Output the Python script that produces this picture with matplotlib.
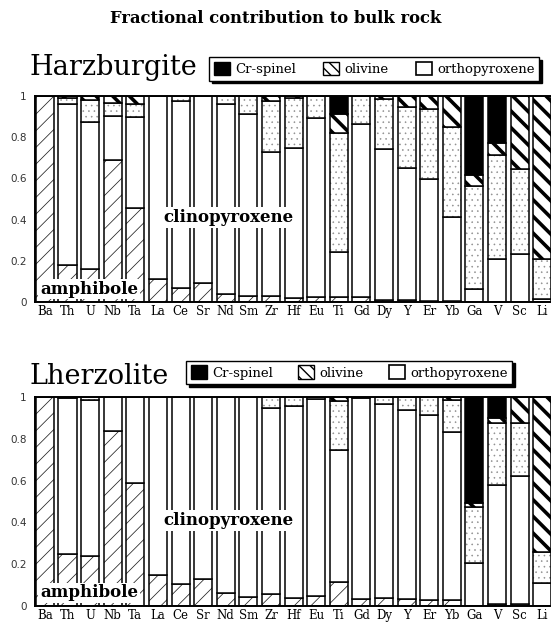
import numpy as np
import matplotlib
matplotlib.use('Agg')
import matplotlib.pyplot as plt
from matplotlib.patches import Patch

# Elementi sull'asse x
elements = ['Ba', 'Th', 'U', 'Nb', 'Ta', 'La', 'Ce', 'Sr', 'Nd', 'Sm', 'Zr', 'Hf', 'Eu',
            'Ti', 'Gd', 'Dy', 'Y', 'Er', 'Yb', 'Ga', 'V', 'Sc', 'Li']
minerals = ['amphibole', 'clinopyroxene', 'orthopyroxene', 'olivine', 'Cr-spinel']

# Harzburgite: fraction of each element held by each mineral (bottom to top)
harz_amphibole = [1.0, 0.18, 0.16, 0.69, 0.455, 0.11, 0.07, 0.093, 0.04, 0.03, 0.03, 0.018,
                  0.025, 0.022, 0.022, 0.012, 0.008, 0.006, 0.006, 0.0, 0.0, 0.0, 0.0]
harz_cpx = [0.0, 0.78, 0.715, 0.215, 0.445, 0.89, 0.905, 0.907, 0.92, 0.885, 0.70, 0.732,
            0.87, 0.22, 0.841, 0.73, 0.645, 0.591, 0.405, 0.063, 0.21, 0.234, 0.015]
harz_opx = [0.0, 0.03, 0.105, 0.06, 0.063, 0.0, 0.025, 0.0, 0.04, 0.085, 0.245, 0.24,
            0.105, 0.58, 0.137, 0.243, 0.295, 0.342, 0.44, 0.502, 0.503, 0.411, 0.195]
harz_olivine = [0.0, 0.01, 0.02, 0.035, 0.037, 0.0, 0.0, 0.0, 0.0, 0.0, 0.025, 0.01,
                0.0, 0.089, 0.0, 0.015, 0.052, 0.061, 0.149, 0.051, 0.061, 0.355, 0.79]
harz_spinel = [0.0, 0.0, 0.0, 0.0, 0.0, 0.0, 0.0, 0.0, 0.0, 0.0, 0.0, 0.0,
               0.0, 0.089, 0.0, 0.0, 0.0, 0.0, 0.0, 0.384, 0.226, 0.0, 0.0]

# Lherzolite
lherz_amphibole = [1.0, 0.25, 0.237, 0.836, 0.588, 0.149, 0.106, 0.13, 0.063, 0.044, 0.058, 0.037,
                   0.048, 0.117, 0.034, 0.036, 0.034, 0.029, 0.029, 0.0, 0.008, 0.008, 0.0]
lherz_cpx = [0.0, 0.745, 0.748, 0.164, 0.412, 0.851, 0.894, 0.87, 0.937, 0.956, 0.89, 0.919,
             0.942, 0.628, 0.961, 0.931, 0.903, 0.884, 0.802, 0.206, 0.572, 0.615, 0.108]
lherz_opx = [0.0, 0.005, 0.015, 0.0, 0.0, 0.0, 0.0, 0.0, 0.0, 0.0, 0.052, 0.044,
             0.01, 0.235, 0.005, 0.033, 0.063, 0.087, 0.154, 0.267, 0.296, 0.253, 0.152]
lherz_olivine = [0.0, 0.0, 0.0, 0.0, 0.0, 0.0, 0.0, 0.0, 0.0, 0.0, 0.0, 0.0,
                 0.0, 0.02, 0.0, 0.0, 0.0, 0.0, 0.015, 0.02, 0.024, 0.124, 0.74]
lherz_spinel = [0.0, 0.0, 0.0, 0.0, 0.0, 0.0, 0.0, 0.0, 0.0, 0.0, 0.0, 0.0,
                0.0, 0.0, 0.0, 0.0, 0.0, 0.0, 0.0, 0.507, 0.10, 0.0, 0.0]

yticks = [0, 0.2, 0.4, 0.6, 0.8, 1]
ytick_labels = ['0', '0.2', '0.4', '0.6', '0.8', '1']

serif = 'DejaVu Serif'

# stile di ogni minerale: colore, tratteggio, colore tratteggio, spessore tratteggio
styles = {
    'amphibole': ('white', '//', '#222222', 0.55),
    'clinopyroxene': ('white', None, 'black', 0.6),
    'orthopyroxene': ('white', '...', '#8f8f8f', 0.4),
    'olivine': ('white', '\\\\', 'black', 2.6),
    'Cr-spinel': ('black', None, 'black', 0.6),
}


def draw_panel(ax, layers, legend_box):
    x = np.arange(len(elements))
    bottom = np.zeros(len(elements))
    for mineral, values in zip(minerals, layers):
        face, hatch, hcolor, hlw = styles[mineral]
        values = np.array(values)
        with plt.rc_context({'hatch.linewidth': hlw, 'hatch.color': hcolor}):
            ax.bar(x, values, width=0.8, bottom=bottom, color=face, hatch=hatch,
                   edgecolor=hcolor, linewidth=0)
        ax.bar(x, values, width=0.8, bottom=bottom, fill=False, edgecolor='black', linewidth=1.1)
        bottom += values

    ax.set_xlim(-0.44, 22.39)
    ax.set_ylim(0, 1)
    ax.set_yticks(yticks)
    ax.set_yticklabels(ytick_labels, fontsize=7.5, family='DejaVu Sans', color='#333333')
    ax.set_xticks(x)
    ax.set_xticklabels(elements, fontsize=8.5, family=serif)
    ax.tick_params(axis='both', length=0)
    ax.tick_params(axis='y', pad=6)
    ax.tick_params(axis='x', pad=2)
    for side in ['left', 'top', 'bottom']:
        ax.spines[side].set_linewidth(1.4)
    ax.spines['right'].set_visible(False)

    ax.text(8.1, 0.41, 'clinopyroxene', family=serif, fontweight='bold', fontsize=12,
            ha='center', va='center', zorder=5,
            bbox=dict(facecolor='white', edgecolor='none', pad=1.5))
    ax.text(1.95, 0.063, 'amphibole', family=serif, fontweight='bold', fontsize=12,
            ha='center', va='center', zorder=5,
            bbox=dict(facecolor='white', edgecolor='none', pad=1.2))

    # Legenda sopra il grafico
    handles = [Patch(facecolor='black', edgecolor='black')]
    with plt.rc_context({'hatch.linewidth': 2.0}):
        handles.append(Patch(facecolor='white', edgecolor='black', hatch='\\\\\\'))
    handles.append(Patch(facecolor='white', edgecolor='black', linewidth=1.2))
    fig.legend(handles, ['Cr-spinel', 'olivine', 'orthopyroxene'], ncol=3, loc='center',
               mode='expand', bbox_to_anchor=legend_box, prop={'family': serif, 'size': 9.5},
               frameon=True, fancybox=False, edgecolor='black', framealpha=1,
               shadow={'color': 'black', 'alpha': 1}, handlelength=1.2, handleheight=1.2,
               handletextpad=0.4, borderpad=0.35, columnspacing=0.8)


fig = plt.figure(figsize=(5.51, 6.27), dpi=100)

ax1 = fig.add_axes([0.0635, 0.5183, 0.9365, 0.3285])
draw_panel(ax1, [harz_amphibole, harz_cpx, harz_opx, harz_olivine, harz_spinel],
           (0.368, 0.870, 0.623, 0.040))
ax2 = fig.add_axes([0.0635, 0.0335, 0.9365, 0.3333])
draw_panel(ax2, [lherz_amphibole, lherz_cpx, lherz_opx, lherz_olivine, lherz_spinel],
           (0.326, 0.385, 0.616, 0.042))

fig.text(0.5, 0.971, 'Fractional contribution to bulk rock', family=serif, fontweight='bold',
         fontsize=11.8, ha='center', va='center')
fig.text(0.054, 0.880, 'Harzburgite', family=serif, fontsize=19.5, ha='left', va='baseline')
fig.text(0.054, 0.3876, 'Lherzolite', family=serif, fontsize=19.5, ha='left', va='baseline')

plt.savefig('out.png', dpi=100)
